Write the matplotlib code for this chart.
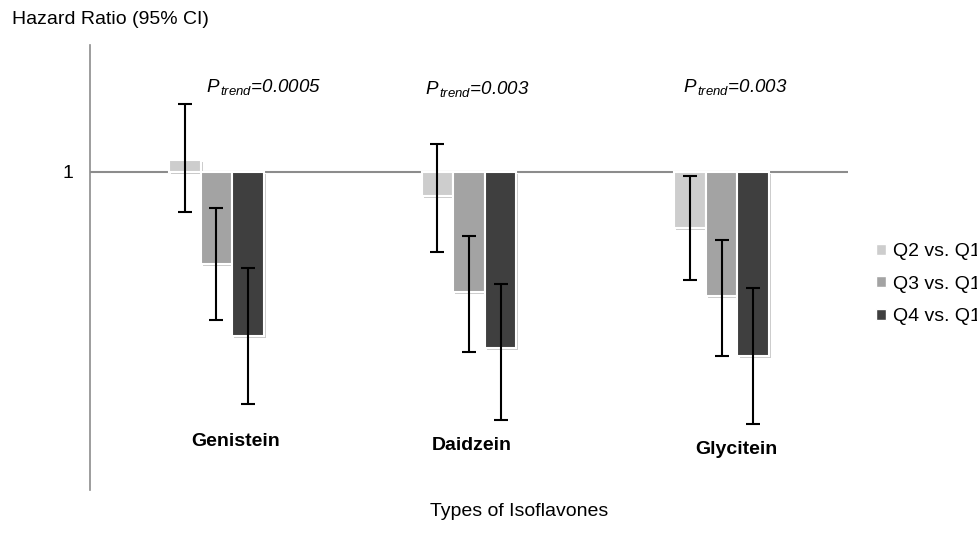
import numpy as np
import matplotlib
matplotlib.use("Agg")
import matplotlib.pyplot as plt
import matplotlib.patheffects as pe
from matplotlib.patches import Patch

plt.rcParams['font.family'] = ['Liberation Sans', 'DejaVu Sans']
plt.rcParams['mathtext.fontset'] = 'custom'
plt.rcParams['mathtext.it'] = 'Liberation Sans:italic'
plt.rcParams['mathtext.rm'] = 'Liberation Sans'

# data (hazard ratios with 95% CI)
isoflavones = ['Genistein', 'Daidzein', 'Glycitein']
series = ['Q2 vs. Q1', 'Q3 vs. Q1', 'Q4 vs. Q1']
hr_q2 = [1.03, 0.94, 0.86]
hr_q3 = [0.77, 0.70, 0.69]
hr_q4 = [0.59, 0.56, 0.54]
lo_q2 = [0.90, 0.80, 0.73]
lo_q3 = [0.63, 0.55, 0.54]
lo_q4 = [0.42, 0.38, 0.37]
hi_q2 = [1.17, 1.07, 0.99]
hi_q3 = [0.91, 0.84, 0.83]
hi_q4 = [0.76, 0.72, 0.71]
p_trend = ['0.0005', '0.003', '0.003']

colors = ['#cdcdcd', '#a3a3a3', '#3f3f3f']
W, H = 978, 534

fig = plt.figure(figsize=(W / 100, H / 100), dpi=100)
ax = fig.add_axes([90 / W, 1 - 490 / H, 758 / W, 445 / H])

x = np.arange(len(isoflavones))
width = 0.125
hrs = [hr_q2, hr_q3, hr_q4]
los = [lo_q2, lo_q3, lo_q4]
his = [hi_q2, hi_q3, hi_q4]

ax.axhline(1, color='#8c8c8c', lw=1.5, zorder=1)

# soft drop shadow under the white-edged bars
shadow = [pe.SimplePatchShadow(offset=(1.5, -1.5), shadow_rgbFace='#555555', alpha=0.3), pe.Normal()]
for i in range(3):
    hr = np.array(hrs[i])
    pos = x + (i - 1) * width
    bars = ax.bar(pos, hr - 1, bottom=1, width=width, color=colors[i],
                  edgecolor='white', linewidth=1.5, zorder=2)
    for b in bars:
        b.set_path_effects(shadow)
    ax.errorbar(pos, hr, yerr=[hr - np.array(los[i]), np.array(his[i]) - hr],
                fmt='none', ecolor='black', elinewidth=1.5, capsize=5,
                capthick=1.5, zorder=3)

ax.set_xlim(-0.5, 2.5)
ax.set_ylim(0.205, 1.3175)
ax.set_yticks([1])
ax.set_yticklabels(['1'], fontsize=14)
ax.tick_params(axis='y', length=0, pad=12)
ax.set_xticks([])
for s in ['top', 'right', 'bottom']:
    ax.spines[s].set_visible(False)
ax.spines['left'].set_color('#8c8c8c')
ax.spines['left'].set_linewidth(1.2)

# p for trend above each group
p_pos = [(206, 87), (425, 89), (683, 87)]
for (px, py), p in zip(p_pos, p_trend):
    fig.text(px / W, 1 - py / H, r'$P_{\,trend}$' + '=' + p, fontsize=13.5,
             style='italic', ha='left', va='center')

# isoflavone names below the bars
name_pos = [(236, 441), (472, 445), (736, 449)]
for (px, py), name in zip(name_pos, isoflavones):
    fig.text(px / W, 1 - py / H, name, fontsize=14, fontweight='bold',
             ha='center', va='center')

fig.text(12 / W, 1 - 20 / H, 'Hazard Ratio (95% CI)', fontsize=14, ha='left', va='center')
fig.text(430 / W, 1 - 512 / H, 'Types of Isoflavones', fontsize=14, ha='left', va='center')

handles = [Patch(facecolor=c, edgecolor='white') for c in colors]
fig.legend(handles, series, loc='upper left', bbox_to_anchor=(876 / W, 1 - 243 / H),
           frameon=False, fontsize=14, handlelength=0.5, handleheight=0.5,
           handletextpad=0.35, labelspacing=0.8, borderpad=0, borderaxespad=0)

fig.savefig('out.png', dpi=100)
